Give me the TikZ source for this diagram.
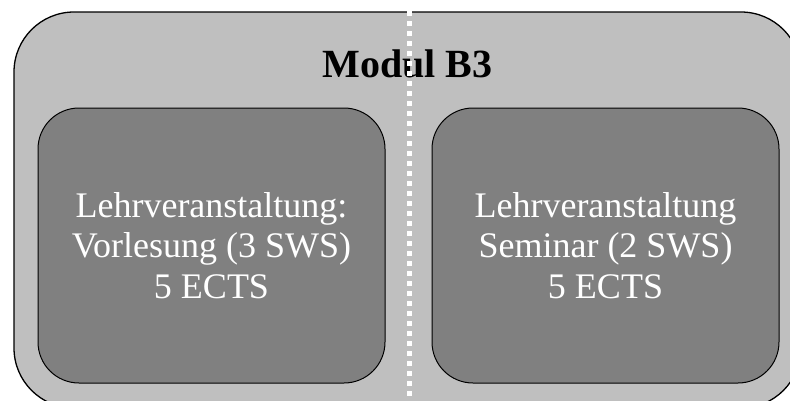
\documentclass[tikz,border=0pt]{standalone}
\usepackage{fontspec}
\setmainfont{Liberation Serif}
\tikzset{
  modulbox/.style={draw=black,line width=1.3pt,fill=gray!50,rounded corners=60pt,
    minimum width=787pt,minimum height=396pt,inner sep=0pt},
  kursbox/.style={draw=black,line width=1pt,fill=gray,rounded corners=41pt,
    minimum width=347pt,minimum height=275pt,inner sep=0pt,text=white,align=center,
    font=\fontsize{36}{40.5}\selectfont},
}
\begin{document}
\begin{tikzpicture}[x=1pt,y=-1pt]
    \useasboundingbox (0,0) rectangle (790,400);
    \node[modulbox] (modul) at (407.5,210) {};
    \node[anchor=base,font=\fontsize{40}{44}\selectfont\bfseries] (titel) at (407.5,77) {Modul B3};
    \node[kursbox] (vorlesung) at (211.5,245.5) {Lehrveranstaltung:\\Vorlesung (3 SWS)\\5 ECTS};
    \node[kursbox] (seminar) at (605.5,245.5) {Lehrveranstaltung\\Seminar (2 SWS)\\5 ECTS};
    \draw[white,line width=5pt,dash pattern=on 5pt off 5pt] ([xshift=2pt]modul.north) -- ([xshift=2pt]modul.south);
\end{tikzpicture}
\end{document}
